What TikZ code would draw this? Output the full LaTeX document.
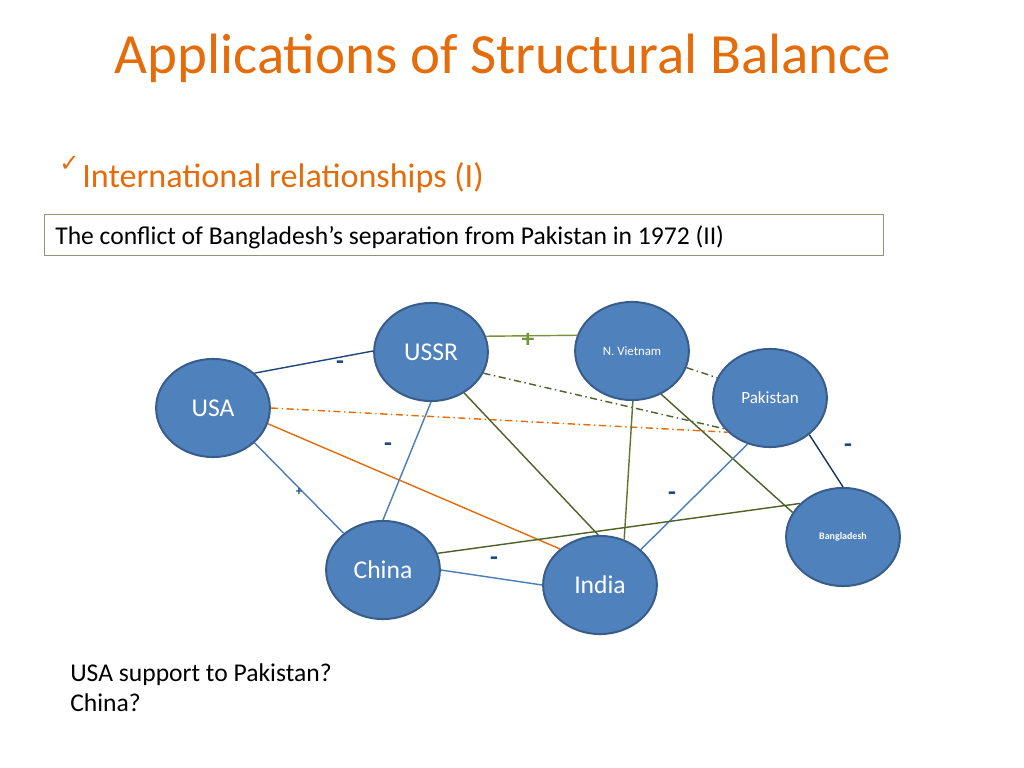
\documentclass[tikz,border=0pt]{standalone}
\usepackage{fontspec}
\setmainfont{Carlito}
\newfontfamily\symfont{DejaVu Sans} % For the tick.
\usetikzlibrary{shapes.geometric}
\definecolor{accent}{RGB}{228,108,10}
\definecolor{fillblue}{RGB}{79,129,189}
\definecolor{rimblue}{RGB}{56,93,138}
\definecolor{lineblue}{RGB}{74,126,187}
\definecolor{navy}{RGB}{31,73,125}
\definecolor{deepnavy}{RGB}{23,55,94}
\definecolor{leaf}{RGB}{119,147,60}
\definecolor{moss}{RGB}{79,98,40}
\definecolor{boxrim}{RGB}{150,144,118}
\newcommand{\sz}[1]{\fontsize{#1}{#1}\selectfont}
\let\sign\textbf % Edge sign.

\begin{document}
\begin{tikzpicture}[x=0.703125pt, y=-0.703125pt,
  country/.style={ellipse, draw=rimblue, line width=1.4pt, fill=fillblue,
    text=white, minimum width=80pt, minimum height=69pt, inner sep=0pt},
  tie/.style={line width=1pt},
  dashdot/.style={tie, dash pattern=on 5pt off 2.5pt on 1pt off 2.5pt},
  signlabel/.style={font=\sz{18}, text=navy}]
\useasboundingbox[fill=white] (0,0) rectangle (1024,768);

\node[anchor=base, text=accent, font=\sz{40}] (title) at (503,74)
  {Applications of Structural Balance};
\node[anchor=base west, text=accent, font=\sz{24}, inner sep=0pt] (topic) at (82,188)
  {International relationships (I)};
\node[anchor=base east, text=accent, font=\symfont\bfseries\sz{17}, inner sep=0pt] (tick)
  at (80,172) {✓};
\node[draw=boxrim, line width=0.6pt, anchor=north west, minimum width=590pt,
  minimum height=28.8pt, inner sep=0pt] (frame) at (44,214) {};
\node[anchor=base west, font=\sz{18}, inner sep=0pt] (case) at (55,245)
  {The conflict of Bangladesh’s separation from Pakistan in 1972 (II)};
\node[anchor=base west, font=\sz{18}, inner sep=0pt] (q1) at (70,681) {USA support to Pakistan?};
\node[anchor=base west, font=\sz{18}, inner sep=0pt] (q2) at (70,711) {China?};

\node[country, font=\sz{18}] (usa) at (213,408) {USA};
\node[country, font=\sz{18}] (ussr) at (431,352) {USSR};
\node[country, font=\sz{9}] (nvietnam) at (632,351) {N. Vietnam};
\node[country, font=\sz{12}] (pakistan) at (770,398) {Pakistan};
\node[country, font=\bfseries\sz{7}] (bangladesh) at (843,537) {Bangladesh};
\node[country, font=\sz{18}] (china) at (383,570) {China};
\node[country, font=\sz{18}] (india) at (600,585) {India};

\draw[tie, navy] (usa.40) -- (ussr.179);
\draw[tie, lineblue] (usa.-40) -- (china.137);
\draw[tie, accent] (usa.-16) -- (india.138);
\draw[dashdot, accent] (usa.0) -- (pakistan.-141);
\draw[tie, leaf] (ussr.16) -- (nvietnam.164);
\draw[tie, lineblue] (ussr.-90) -- (china.90);
\draw[tie, moss] (ussr.-51) -- (india.92);
\draw[dashdot, moss] (ussr.-22) -- (pakistan.-146);
\draw[dashdot, moss] (nvietnam.-17) -- (pakistan.159);
\draw[tie, leaf!80!black] (nvietnam.-89) -- (india.62);
\draw[tie, moss] (nvietnam.-56) -- (bangladesh.154);
\draw[tie, lineblue] (pakistan.-116) -- (india.41);
\draw[tie, deepnavy] (pakistan.-43) -- (bangladesh.90);
\draw[tie, moss] (china.17) -- (bangladesh.142);
\draw[tie, lineblue] (china.0) -- (india.180);

\node[signlabel] (s1) at (340,365) {\sign{-}};
\node[signlabel, text=leaf] (s2) at (528,340) {\sign{+}};
\node[signlabel, font=\sz{9}] (s3) at (299,492) {\sign{+}};
\node[signlabel] (s4) at (388,447) {\sign{-}};
\node[signlabel] (s5) at (672,496) {\sign{-}};
\node[signlabel] (s6) at (848,448) {\sign{-}};
\node[signlabel] (s7) at (494,561) {\sign{-}};
\end{tikzpicture}
\end{document}
